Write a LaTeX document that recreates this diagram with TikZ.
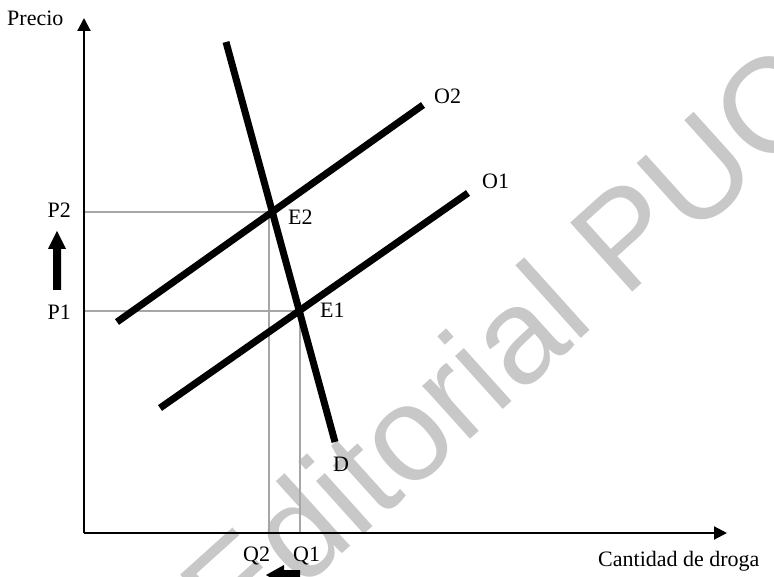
\documentclass[tikz,border=0pt]{standalone}
\usepackage{fontspec}
\setmainfont{Liberation Serif}
\newfontfamily\wmfont{Liberation Sans}
\usetikzlibrary{arrows.meta}
\definecolor{guide}{HTML}{A6A6A6}
\definecolor{wmark}{HTML}{C8C8C8}
\tikzset{
  axisline/.style={line width=2pt,-{Triangle[length=13pt,width=13pt]}},
  curve/.style={line width=7pt},
  guideline/.style={guide,line width=2pt},
  lbl/.style={inner sep=0pt,font=\fontsize{22}{22}\selectfont},
  bigarrow/.style={fill=black,draw=none}
}
\begin{document}
\begin{tikzpicture}[x=1pt,y=-1pt]
\useasboundingbox (0,0) rectangle (774,577);
\clip (0,0) rectangle (774,577);
% watermark
\node[wmark,font=\wmfont\fontsize{135}{135}\selectfont,rotate=42,inner sep=0pt] (wm) at (537,314) {Editorial PUCP};
% coordinates
\coordinate (origin) at (84,533);
\coordinate (ytip) at (84,18);
\coordinate (xtip) at (727,533);
\coordinate (d1) at (226,42);
\coordinate (d2) at (335,442);
\coordinate (o2a) at (117,322);
\coordinate (o2b) at (423,105);
\coordinate (o1a) at (160,408);
\coordinate (o1b) at (468,193);
\coordinate (E2) at (272,212);
\coordinate (E1) at (299,311);
\coordinate (p2) at (84,212);
\coordinate (p1) at (84,311);
\coordinate (q2) at (269,533);
\coordinate (q1) at (300,533);
\coordinate (q2t) at (269,212);
\coordinate (q1t) at (300,311);
% guide lines
\draw[guideline] (p2) -- (E2);
\draw[guideline] (p1) -- (E1);
\draw[guideline] (q2t) -- (q2);
\draw[guideline] (q1t) -- (q1);
% axes
\draw[axisline] (origin) -- (ytip);
\draw[axisline] (origin) -- (xtip);
% curves
\draw[curve] (d1) -- (d2);
\draw[curve] (o2a) -- (o2b);
\draw[curve] (o1a) -- (o1b);
% labels
\node[lbl,anchor=base west] (precio) at (7,26) {Precio};
\node[lbl,anchor=base west] (cant) at (598,566) {Cantidad de droga};
\node[lbl,anchor=base east] (P2) at (71,218) {P2};
\node[lbl,anchor=base east] (P1) at (71,320) {P1};
\node[lbl,anchor=base west] (lE2) at (288,225) {E2};
\node[lbl,anchor=base west] (lE1) at (320,318) {E1};
\node[lbl,anchor=base west] (lD) at (333,471) {D};
\node[lbl,anchor=base west] (lO2) at (434,104) {O2};
\node[lbl,anchor=base west] (lO1) at (482,189) {O1};
\node[lbl,anchor=base west] (lQ2) at (243,561) {Q2};
\node[lbl,anchor=base west] (lQ1) at (293,561) {Q1};
% shift arrows
\fill[bigarrow] (53,290) -- (53,249) -- (48,249) -- (57,231) -- (66,249) -- (61,249) -- (61,290) -- cycle;
\fill[bigarrow] (300,570) -- (284,570) -- (284,565) -- (266,575) -- (284,585) -- (284,580) -- (300,580) -- cycle;
\end{tikzpicture}
\end{document}
